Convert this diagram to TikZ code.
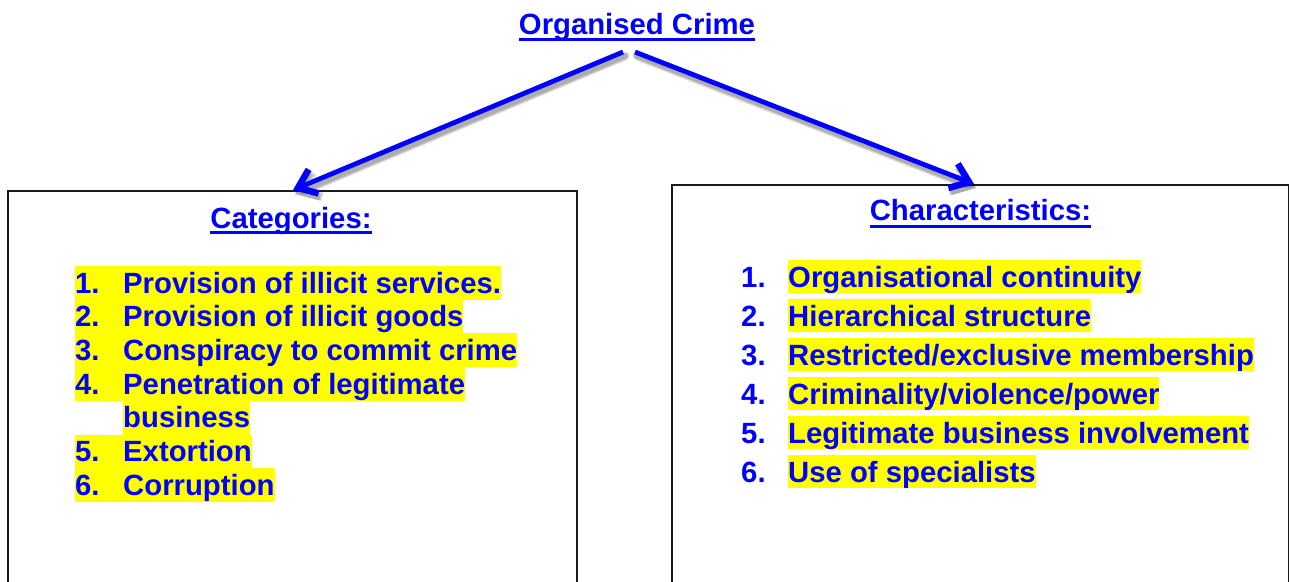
\documentclass[tikz,border=0pt]{standalone}
\usepackage{fontspec}
\setmainfont{Liberation Sans}
\usetikzlibrary{arrows.meta}
\definecolor{inkblue}{RGB}{0,0,255}
\definecolor{hlyellow}{RGB}{255,255,0}
\definecolor{boxline}{RGB}{25,25,25}
\tikzset{
  txt/.style={inner sep=0pt, text=inkblue, font=\fontsize{29.3pt}{33.7pt}\selectfont\bfseries},
  hl/.style={txt, fill=hlyellow, text height=27pt, text depth=6.7pt},
  hlr/.style={txt, fill=hlyellow, text height=27pt, text depth=6pt},
  uline/.style={draw=inkblue, line width=3.2pt},
  panel/.style={draw=boxline, line width=2pt, inner sep=0pt, anchor=north west},
  link/.style={draw=inkblue, line width=4.8pt,
    -{Straight Barb[length=17pt,width=26pt,line width=6.5pt]}},
  linkshadow/.style={draw=black, opacity=0.12, line width=#1, line cap=round,
    -{Straight Barb[length=17pt,width=26pt]}},
}
\begin{document}
\begin{tikzpicture}[x=1pt,y=-1pt]
\useasboundingbox (0,0) rectangle (1289,581);
\clip (0,0) rectangle (1289,581);

% heading
\node[txt, anchor=base] (title) at (637,34) {Organised Crime};
\draw[uline] ([yshift=-5.5pt]title.base west) -- ([yshift=-5.5pt]title.base east);

% the two panels
\node[panel, minimum width=569pt, minimum height=420pt] (catbox) at (7,190) {};
\node[panel, minimum width=617pt, minimum height=420pt] (charbox) at (671,184) {};

% connectors from the heading to the panels
\coordinate (lfrom) at (623,52);
\coordinate (rfrom) at (635,52);
\coordinate (lto) at ([xshift=0.5pt]catbox.north);
\coordinate (rto) at ([xshift=-6.5pt]charbox.north);
\foreach \w in {9pt,7pt,5pt}{
  \draw[linkshadow=\w, transform canvas={shift={(2pt,-4pt)}}] (lfrom) -- (lto);
  \draw[linkshadow=\w, transform canvas={shift={(2pt,-4pt)}}] (rfrom) -- (rto);
}
\draw[link] (lfrom) -- (lto);
\draw[link] (rfrom) -- (rto);

% categories panel
\node[txt, anchor=base] (cathead) at (291,228) {Categories:};
\draw[uline] ([yshift=-4.8pt]cathead.base west) -- ([yshift=-4.8pt]cathead.base east);

\node[hl, anchor=base west] (c1) at (75,293.0) {\makebox[48pt][l]{1.}Provision of illicit services.};
\node[hl, anchor=base west] (c2) at (75,326.7) {\makebox[48pt][l]{2.}Provision of illicit goods};
\node[hl, anchor=base west] (c3) at (75,360.4) {\makebox[48pt][l]{3.}Conspiracy to commit crime};
\node[hl, anchor=base west] (c4) at (75,394.1) {\makebox[48pt][l]{4.}Penetration of legitimate};
\node[hl, anchor=base west] (c4b) at (123,427.8) {business};
\node[hl, anchor=base west] (c5) at (75,461.5) {\makebox[48pt][l]{5.}Extortion};
\node[hl, anchor=base west] (c6) at (75,495.2) {\makebox[48pt][l]{6.}Corruption};

% characteristics panel
\node[txt, anchor=base] (charhead) at (980.5,220.7) {Characteristics:};
\draw[uline] ([yshift=-5.6pt]charhead.base west) -- ([yshift=-5.6pt]charhead.base east);

\node[txt, anchor=base west] (n1) at (741,287) {1.};
\node[hlr, anchor=base west] (k1) at (788,287) {Organisational continuity};
\node[txt, anchor=base west] (n2) at (741,326) {2.};
\node[hlr, anchor=base west] (k2) at (788,326) {Hierarchical structure};
\node[txt, anchor=base west] (n3) at (741,365) {3.};
\node[hlr, anchor=base west] (k3) at (788,365) {Restricted/exclusive membership};
\node[txt, anchor=base west] (n4) at (741,404) {4.};
\node[hlr, anchor=base west] (k4) at (788,404) {Criminality/violence/power};
\node[txt, anchor=base west] (n5) at (741,443) {5.};
\node[hlr, anchor=base west] (k5) at (788,443) {Legitimate business involvement};
\node[txt, anchor=base west] (n6) at (741,482) {6.};
\node[hlr, anchor=base west] (k6) at (788,482) {Use of specialists};
\end{tikzpicture}
\end{document}
